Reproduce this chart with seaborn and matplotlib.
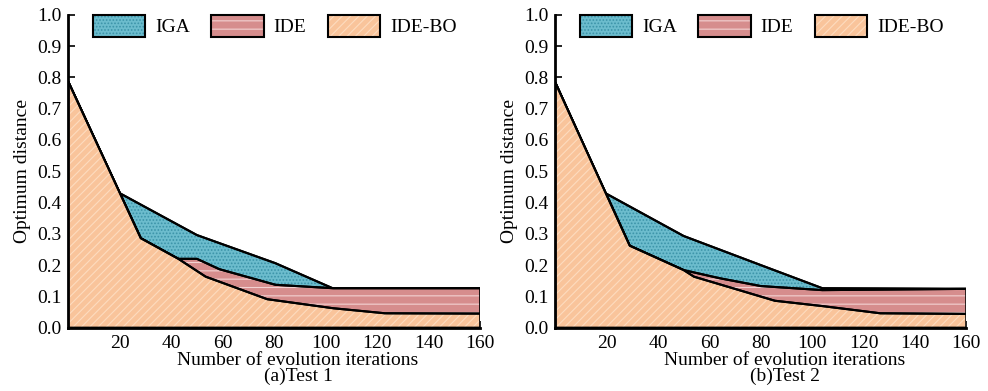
import numpy as np
import seaborn as sns
import matplotlib.pyplot as plt
from matplotlib.patches import Patch

# Test 1 curves (iterations, optimum distance)
iga1_x = [0, 20, 50, 80.5, 103, 160]
iga1_y = [0.787, 0.43, 0.296, 0.206, 0.125, 0.125]
ide1_x = [0, 28.2, 42.8, 50, 58.7, 80.5, 103, 160]
ide1_y = [0.787, 0.286, 0.22, 0.22, 0.187, 0.137, 0.126, 0.126]
bo1_x = [0, 28.2, 42.8, 53.4, 77.3, 103, 123, 160]
bo1_y = [0.787, 0.286, 0.22, 0.163, 0.091, 0.062, 0.046, 0.045]

# Test 2 curves
iga2_x = [0, 19.5, 50, 80, 104, 160]
iga2_y = [0.784, 0.43, 0.293, 0.2, 0.126, 0.124]
ide2_x = [0, 29, 50, 64, 80, 104, 160]
ide2_y = [0.784, 0.262, 0.184, 0.158, 0.133, 0.12, 0.124]
bo2_x = [0, 29, 50, 54, 85.5, 104, 126.5, 160]
bo2_y = [0.784, 0.262, 0.184, 0.163, 0.086, 0.069, 0.046, 0.044]

names = ["IGA", "IDE", "IDE-BO"]
face = ["#6cbccd", "#d68d8d", "#f9c49b"]
hatch_col = ["#3b93a8", "#f3d2d2", "#fddcbf"]
hatches = [".....", "--", "////"]

sns.set_style("ticks")
plt.rcParams["font.family"] = ["Liberation Serif", "DejaVu Serif"]
plt.rcParams["hatch.linewidth"] = 0.8
for k in ["text.color", "axes.labelcolor", "xtick.color", "ytick.color"]:
    plt.rcParams[k] = "black"

fig = plt.figure(figsize=(9.88, 3.91), dpi=100)
ax1 = fig.add_axes([0.069, 0.162, 0.417, 0.80])
ax2 = fig.add_axes([0.562, 0.162, 0.416, 0.80])

panels = [
    (ax1, [(iga1_x, iga1_y), (ide1_x, ide1_y), (bo1_x, bo1_y)], "(a)Test 1"),
    (ax2, [(iga2_x, iga2_y), (ide2_x, ide2_y), (bo2_x, bo2_y)], "(b)Test 2"),
]

for ax, series, sub in panels:
    for i, (x, y) in enumerate(series):
        z = 2 + 2 * i
        ax.fill_between(x, 0, y, facecolor=face[i], edgecolor=hatch_col[i],
                        hatch=hatches[i], linewidth=0, zorder=z)
        ax.fill_between(x, 0, y, facecolor="none", edgecolor="black",
                        linewidth=1.5, zorder=z + 1)
        sns.lineplot(x=x, y=y, ax=ax, color="black", linewidth=1.5,
                     zorder=z + 1, sort=False, estimator=None)

    ax.set_xlim(0, 160)
    ax.set_ylim(0, 1.0)
    ax.set_xticks(np.arange(20, 161, 20))
    ax.set_yticks(np.arange(0, 1.01, 0.1))
    ax.set_yticklabels([f"{v:.1f}" for v in np.arange(0, 1.01, 0.1)])
    ax.tick_params(direction="in", length=5, width=1.2, labelsize=14, pad=5,
                   colors="black")
    sns.despine(ax=ax)
    for s in ["left", "bottom"]:
        ax.spines[s].set_linewidth(2)
        ax.spines[s].set_color("black")
        ax.spines[s].set_zorder(10)
    ax.set_xlabel("Number of evolution iterations\n" + sub, fontsize=14,
                  linespacing=0.95)
    ax.xaxis.set_label_coords(0.558, -0.077, transform=ax.transAxes)
    ax.xaxis.label.set_verticalalignment("top")
    ax.set_ylabel("Optimum distance", fontsize=14, labelpad=4)

    handles = [(Patch(facecolor=face[i], edgecolor=hatch_col[i], hatch=hatches[i], lw=0),
                Patch(facecolor="none", edgecolor="black", lw=1.5)) for i in range(3)]
    ax.legend(handles, names, loc="upper left", bbox_to_anchor=(0.06, 1.0),
              ncol=3, frameon=False, fontsize=14, handlelength=2.7,
              handleheight=1.35, columnspacing=1.1, handletextpad=0.5,
              borderpad=0, borderaxespad=0)

fig.savefig("out.png", dpi=100)
